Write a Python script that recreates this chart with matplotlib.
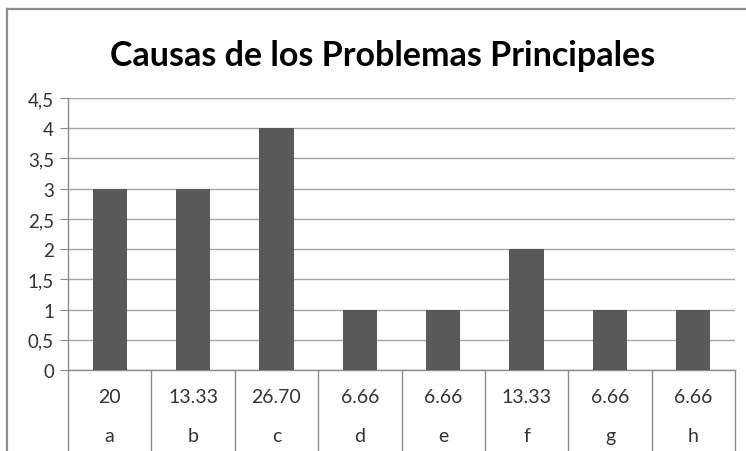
import numpy as np
import matplotlib.pyplot as plt
from matplotlib.lines import Line2D

# datos del grafico
letras = ['a', 'b', 'c', 'd', 'e', 'f', 'g', 'h']
porcentajes = ['20', '13.33', '26.70', '6.66', '6.66', '13.33', '6.66', '6.66']
frecuencias = [3, 3, 4, 1, 1, 2, 1, 1]
y_ticks = [0, 0.5, 1, 1.5, 2, 2.5, 3, 3.5, 4, 4.5]
y_tick_labels = ['0', '0,5', '1', '1,5', '2', '2,5', '3', '3,5', '4', '4,5']

W, H = 746, 452
fig = plt.figure(figsize=(W / 100, H / 100), dpi=100)
fig.patch.set_facecolor('white')

gris = '#8c8c8c'
font = 'Lato'
texto = '#333333'

# marco exterior del grafico
fig.add_artist(Line2D([7 / W, 7 / W], [0, 1 - 10 / H], color=gris, lw=1.6, transform=fig.transFigure))
fig.add_artist(Line2D([7 / W, 1], [1 - 10 / H, 1 - 10 / H], color=gris, lw=1.6, transform=fig.transFigure))

left, right, top, bottom = 68, 735, 99, 371
ax = fig.add_axes([left / W, 1 - bottom / H, (right - left) / W, (bottom - top) / H])

x = np.arange(len(letras))
ax.bar(x, frecuencias, width=0.41, color='#595959', zorder=3)

ax.set_xlim(-0.5, len(letras) - 0.5)
ax.set_ylim(0, 4.5)
ax.set_yticks(y_ticks)
ax.set_yticklabels(y_tick_labels, fontsize=13.5, fontname=font, color=texto)
ax.set_xticks([])
ax.yaxis.grid(True, color='#a6a6a6', lw=1, zorder=0)
ax.tick_params(axis='y', length=6, color=gris, pad=4)

for side in ['top', 'right']:
    ax.spines[side].set_visible(False)
for side in ['left', 'bottom']:
    ax.spines[side].set_color(gris)
    ax.spines[side].set_linewidth(1)

# eje de categorias con dos niveles
trans = ax.get_xaxis_transform()
alto = bottom - top
for i in range(len(letras) + 1):
    ax.plot([i - 0.5, i - 0.5], [0, -(H - bottom) / alto], color=gris, lw=1,
            transform=trans, clip_on=False)
for i in range(len(letras)):
    ax.text(i, -(398 - bottom) / alto, porcentajes[i], transform=trans, ha='center', va='center',
            fontsize=14, fontname=font, color=texto)
    ax.text(i, -(437 - bottom) / alto, letras[i], transform=trans, ha='center', va='center',
            fontsize=14, fontname=font, color=texto)

fig.text(383 / W, 1 - 56 / H, 'Causas de los Problemas Principales', ha='center', va='center',
         fontsize=24.5, fontweight='bold', fontname=font, color='black')

fig.savefig('out.png', dpi=100)
